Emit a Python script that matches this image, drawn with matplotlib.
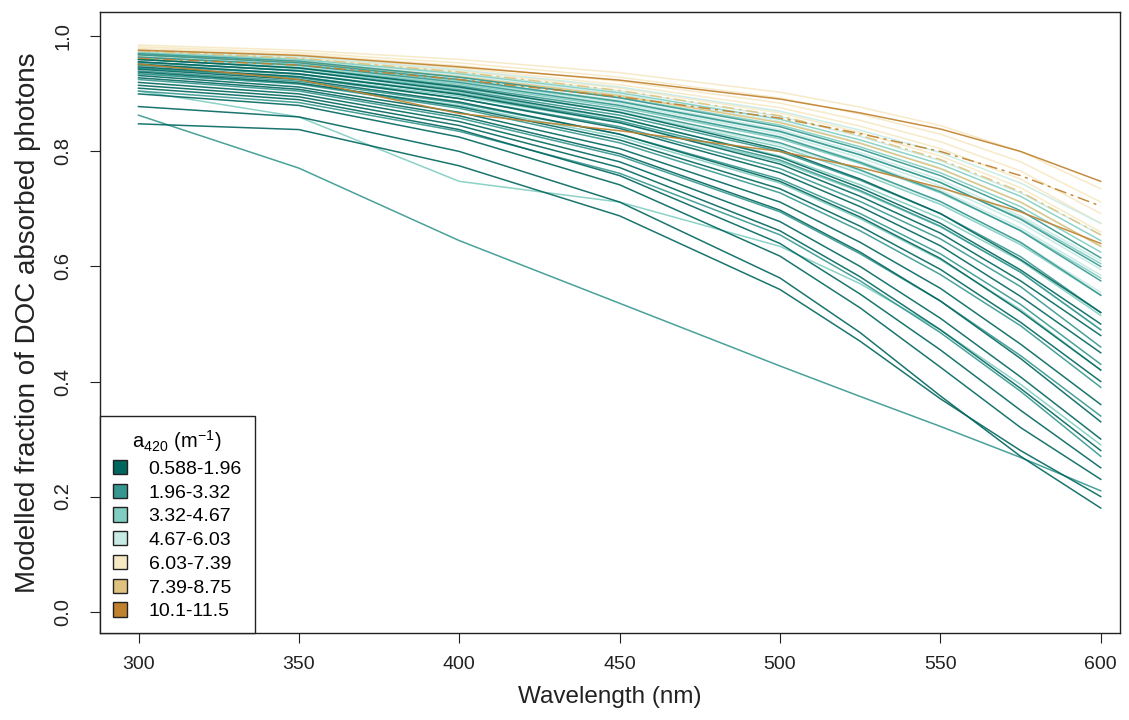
import matplotlib.pyplot as plt
from matplotlib.patches import Patch

plt.rcParams['font.family'] = ['Liberation Sans', 'DejaVu Sans']

wavelength = [300, 350, 400, 450, 500, 525, 550, 575, 600]

# fraction of DOC absorbed photons, one list per lake, grouped by a420 class
class1 = [
    [0.878, 0.860, 0.800, 0.712, 0.580, 0.485, 0.375, 0.270, 0.180],
    [0.848, 0.838, 0.775, 0.688, 0.560, 0.470, 0.370, 0.280, 0.200],
    [0.900, 0.880, 0.825, 0.742, 0.618, 0.528, 0.425, 0.320, 0.230],
    [0.910, 0.890, 0.838, 0.758, 0.640, 0.552, 0.455, 0.350, 0.250],
    [0.915, 0.895, 0.845, 0.772, 0.662, 0.582, 0.490, 0.388, 0.280],
    [0.920, 0.900, 0.852, 0.782, 0.678, 0.600, 0.510, 0.408, 0.300],
    [0.928, 0.908, 0.862, 0.796, 0.698, 0.625, 0.540, 0.440, 0.330],
    [0.932, 0.912, 0.868, 0.805, 0.712, 0.642, 0.562, 0.465, 0.360],
    [0.938, 0.919, 0.878, 0.820, 0.735, 0.670, 0.595, 0.503, 0.400],
    [0.943, 0.925, 0.886, 0.830, 0.748, 0.686, 0.614, 0.522, 0.420],
    [0.947, 0.930, 0.892, 0.840, 0.763, 0.704, 0.636, 0.548, 0.450],
    [0.952, 0.935, 0.899, 0.850, 0.778, 0.722, 0.658, 0.575, 0.480],
    [0.956, 0.940, 0.905, 0.858, 0.790, 0.737, 0.675, 0.594, 0.500],
    [0.960, 0.945, 0.912, 0.868, 0.803, 0.752, 0.692, 0.612, 0.520],
]
class2 = [
    [0.863, 0.771, 0.645, 0.536, 0.427, 0.374, 0.322, 0.268, 0.210],
    [0.905, 0.885, 0.835, 0.762, 0.655, 0.575, 0.485, 0.383, 0.270],
    [0.925, 0.905, 0.858, 0.792, 0.695, 0.622, 0.540, 0.445, 0.340],
    [0.935, 0.917, 0.875, 0.815, 0.728, 0.662, 0.586, 0.497, 0.390],
    [0.945, 0.928, 0.892, 0.843, 0.770, 0.713, 0.648, 0.565, 0.460],
    [0.950, 0.934, 0.900, 0.853, 0.785, 0.732, 0.670, 0.590, 0.490],
    [0.955, 0.940, 0.907, 0.863, 0.800, 0.750, 0.692, 0.617, 0.520],
    [0.960, 0.945, 0.914, 0.873, 0.815, 0.768, 0.713, 0.642, 0.550],
    [0.964, 0.950, 0.920, 0.880, 0.825, 0.781, 0.730, 0.662, 0.575],
    [0.968, 0.954, 0.925, 0.887, 0.835, 0.794, 0.746, 0.682, 0.600],
    [0.940, 0.922, 0.884, 0.830, 0.752, 0.692, 0.622, 0.534, 0.430],
    [0.970, 0.957, 0.929, 0.893, 0.843, 0.804, 0.758, 0.697, 0.615],
]
class3 = [
    [0.905, 0.860, 0.748, 0.712, 0.635, 0.570, 0.490, 0.395, 0.290],
    [0.935, 0.918, 0.880, 0.825, 0.745, 0.683, 0.612, 0.525, 0.420],
    [0.950, 0.935, 0.902, 0.857, 0.792, 0.742, 0.684, 0.610, 0.515],
    [0.955, 0.941, 0.910, 0.868, 0.808, 0.762, 0.708, 0.638, 0.550],
    [0.960, 0.946, 0.917, 0.877, 0.822, 0.779, 0.728, 0.663, 0.580],
    [0.964, 0.951, 0.923, 0.886, 0.834, 0.794, 0.746, 0.684, 0.605],
    [0.968, 0.955, 0.929, 0.894, 0.846, 0.808, 0.763, 0.704, 0.625],
    [0.972, 0.960, 0.935, 0.902, 0.856, 0.820, 0.778, 0.722, 0.645],
    [0.945, 0.930, 0.896, 0.850, 0.782, 0.730, 0.669, 0.590, 0.490],
]
class4 = [
    [0.955, 0.942, 0.912, 0.870, 0.812, 0.766, 0.712, 0.642, 0.555],
    [0.960, 0.947, 0.919, 0.880, 0.826, 0.783, 0.733, 0.667, 0.585],
    [0.965, 0.952, 0.925, 0.889, 0.838, 0.798, 0.751, 0.688, 0.610],
    [0.970, 0.958, 0.932, 0.899, 0.852, 0.815, 0.771, 0.712, 0.635],
    [0.973, 0.961, 0.937, 0.905, 0.861, 0.826, 0.784, 0.728, 0.655],
    [0.976, 0.965, 0.942, 0.912, 0.870, 0.837, 0.798, 0.745, 0.675],
    [0.962, 0.949, 0.921, 0.883, 0.830, 0.789, 0.740, 0.676, 0.595],
]
class5 = [
    [0.985, 0.976, 0.960, 0.937, 0.903, 0.877, 0.845, 0.800, 0.735],
    [0.982, 0.972, 0.954, 0.929, 0.893, 0.865, 0.830, 0.782, 0.712],
    [0.979, 0.969, 0.949, 0.922, 0.884, 0.854, 0.817, 0.766, 0.692],
    [0.977, 0.966, 0.945, 0.916, 0.876, 0.844, 0.805, 0.752, 0.675],
    [0.974, 0.963, 0.940, 0.910, 0.867, 0.833, 0.792, 0.737, 0.660],
]
class6 = [
    [0.968, 0.955, 0.930, 0.897, 0.850, 0.814, 0.770, 0.712, 0.635],
    [0.975, 0.962, 0.938, 0.906, 0.862, 0.828, 0.786, 0.730, 0.655],
]
class7 = [
    [0.976, 0.967, 0.947, 0.924, 0.891, 0.867, 0.839, 0.800, 0.748],
    [0.962, 0.950, 0.925, 0.895, 0.858, 0.831, 0.800, 0.758, 0.705],
    [0.952, 0.925, 0.866, 0.836, 0.800, 0.772, 0.737, 0.695, 0.640],
]

class_labels = ['0.588-1.96', '1.96-3.32', '3.32-4.67', '4.67-6.03',
                '6.03-7.39', '7.39-8.75', '10.1-11.5']
class_colors = ['#01665E', '#35978F', '#80CDC1', '#C7EAE5',
                '#F6E8C3', '#DFC27D', '#BF812D']

fig = plt.figure(figsize=(11.29, 7.2), dpi=100)
ax = fig.add_axes([0.0886, 0.121, 0.9034, 0.862])

# light classes first so the dark teal lines sit on top
groups = [class5, class4, class3, class6, class2, class1, class7]
group_idx = [4, 3, 2, 5, 1, 0, 6]
for lines, k in zip(groups, group_idx):
    for j, vals in enumerate(lines):
        ls = '-'
        if k >= 5 and j % 2 == 1:
            ls = (0, (8, 3, 2, 3))
        ax.plot(wavelength, vals, color=class_colors[k], lw=1.1, ls=ls, alpha=0.9)

ax.set_xlim(288, 606)
ax.set_ylim(-0.037, 1.042)
ax.set_xticks([300, 350, 400, 450, 500, 550, 600])
ax.set_xticklabels(['300', '350', '400', '450', '500', '550', '600'], fontsize=14)
ax.set_yticks([0.0, 0.2, 0.4, 0.6, 0.8, 1.0])
ax.set_yticklabels(['0.0', '0.2', '0.4', '0.6', '0.8', '1.0'], rotation=90, va='center', fontsize=14.5)
ax.tick_params(direction='out', length=7, colors='#222222')
ax.tick_params(axis='x', pad=10)
ax.tick_params(axis='y', pad=13)
for s in ax.spines.values():
    s.set_color('#222222')
    s.set_linewidth(1.0)

ax.set_xlabel('Wavelength (nm)', fontsize=17.5, labelpad=9, color='#222222')
ax.set_ylabel('Modelled fraction of DOC absorbed photons', fontsize=20, labelpad=9, color='#222222')

# legend with square colour keys
handles = [Patch(facecolor=c, edgecolor='#222222', lw=1.0) for c in class_colors]
leg = ax.legend(handles, class_labels, loc='lower left', borderaxespad=0,
                title=r'$\mathregular{a_{420}\ (m^{-1})}$', fontsize=14,
                title_fontsize=14.5, fancybox=False, edgecolor='#222222',
                framealpha=1, handlelength=0.75, handleheight=0.75,
                handletextpad=1.1, labelspacing=0.3, borderpad=0.65)
leg.get_frame().set_linewidth(1.0)

plt.savefig('out.png', dpi=100)
